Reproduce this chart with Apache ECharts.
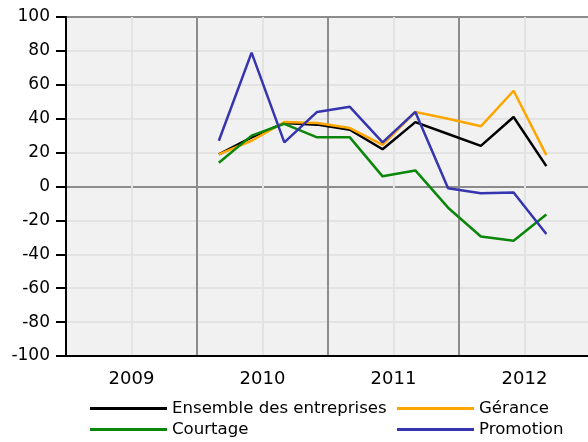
<!DOCTYPE html>
<html style="height:100%">
<head>
    <meta charset="utf-8">
    <title>Indicateurs</title>
<script src="https://cdn.jsdelivr.net/npm/echarts@6/dist/echarts.min.js"></script>
</head>
<body style="height:100%;width:100%;margin:0;background:#fff;">
    <div id="main" style="width:588px;height:442px;margin:0"></div>
    <script type="text/javascript">
        // trimestres 2010T1 .. 2012T3
        var periods = ['2010T1','2010T2','2010T3','2010T4','2011T1','2011T2','2011T3','2011T4','2012T1','2012T2','2012T3'];
        var ensemble  = [19, 29, 37.5, 36.5, 33.5, 22, 38, 31, 24, 41, 12];
        var gerance   = [19, 27, 38, 37.5, 34.5, 24.5, 44, 40, 35.5, 56.5, 18.5];
        var courtage  = [14, 30, 37, 29, 29, 6, 9.5, -12.5, -29.5, -32, -16.5];
        var promotion = [27, 79, 26, 44, 47, 26, 44, -1, -4, -3.5, -28];
        var years = [2009, 2010, 2011, 2012];

        var font = 'DejaVu Sans';

        // position of a quarter on the time axis (middle month of the quarter)
        function xOf(p){
            var y = +p.slice(0, 4), q = +p.slice(5);
            return y + (q * 3 - 1) / 12;
        }
        function pairs(vals){
            return periods.map(function(p, i){ return [xOf(p), vals[i]]; });
        }
        function line(name, color, vals){
            return {
                name: name, type: 'line', data: pairs(vals),
                showSymbol: false, symbol: 'none',
                lineStyle: {color: color, width: 2.5},
                itemStyle: {color: color},
                animation: false
            };
        }
        // one legend per entry, so the two columns line up
        function legendItem(name, left, top){
            return {
                left: left, top: top, padding: 0,
                icon: 'rect', itemWidth: 77, itemHeight: 3,
                textStyle: {fontFamily: font, fontSize: 16.6, color: '#000'},
                data: [name]
            };
        }

        var myChart = echarts.init(document.getElementById('main'));
        myChart.setOption({
            textStyle: {fontFamily: font},
            grid: {
                left: 66, top: 17, width: 524, height: 339,
                outerBoundsMode: 'none',
                show: true, backgroundColor: '#f1f1f1',
                borderColor: '#000', borderWidth: 2
            },
            legend: [
                legendItem('Ensemble des entreprises', 90, 400),
                legendItem('Gérance', 397, 400),
                legendItem('Courtage', 90, 421),
                legendItem('Promotion', 397, 421)
            ],
            xAxis: [{
                type: 'value', min: 2009, max: 2013, interval: 0.5,
                axisLine: {onZero: false, lineStyle: {color: '#000', width: 2}},
                axisTick: {show: false},
                axisLabel: {
                    fontFamily: font, fontSize: 18, color: '#000', margin: 14,
                    formatter: function(v){
                        return (v % 1 === 0.5 && years.indexOf(Math.floor(v)) >= 0) ? String(Math.floor(v)) : '';
                    }
                },
                splitLine: {show: true, lineStyle: {color: '#e3e3e3', width: 2}}
            }, {
                type: 'value', min: 2009, max: 2013, interval: 1, position: 'bottom',
                axisLine: {show: false, onZero: false}, axisTick: {show: false}, axisLabel: {show: false},
                splitLine: {show: true, lineStyle: {color: '#8c8c8c', width: 2}}
            }],
            yAxis: [{
                type: 'value', min: -100, max: 100, interval: 20,
                axisLine: {show: true, onZero: false, lineStyle: {color: '#000', width: 2}},
                axisTick: {show: true, length: 10, lineStyle: {color: '#000', width: 2}},
                axisLabel: {fontFamily: font, fontSize: 17, color: '#000', margin: 16},
                splitLine: {show: true, lineStyle: {color: '#e3e3e3', width: 2}}
            }, {
                type: 'value', min: -100, max: 100, interval: 100, position: 'left',
                axisLine: {show: false, onZero: false}, axisTick: {show: false}, axisLabel: {show: false},
                splitLine: {show: true, lineStyle: {color: '#8c8c8c', width: 2}}
            }],
            series: [
                line('Ensemble des entreprises', '#000000', ensemble),
                line('Gérance', '#ffa500', gerance),
                line('Courtage', '#0a870a', courtage),
                line('Promotion', '#3535b0', promotion)
            ]
        });
    </script>
</body>
</html>
